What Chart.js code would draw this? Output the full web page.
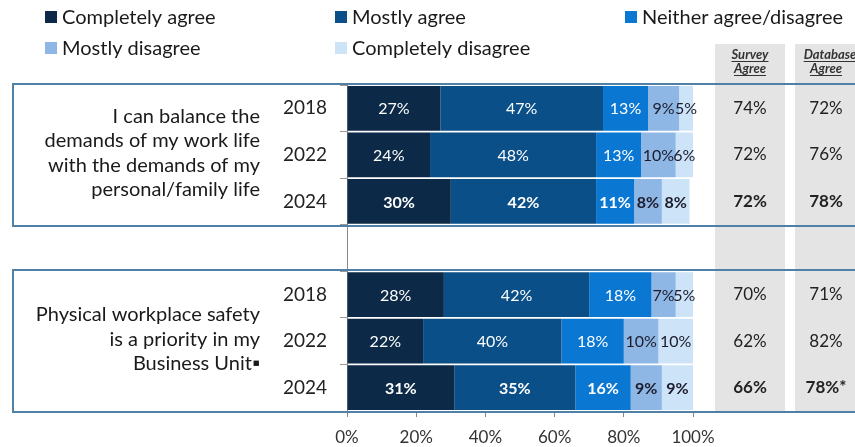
<!DOCTYPE html>
<html>
<head>
<meta charset="utf-8">
<script src="https://cdn.jsdelivr.net/npm/chart.js@4"></script>
<style>
  html, body { margin: 0; padding: 0; background: #fff; }
  #wrap { width: 855px; height: 447px; }
</style>
</head>
<body>
<div id="wrap"><canvas id="chart" width="855" height="447"></canvas></div>
<script>
// rows: 2018/2022/2024 for each question, with a blank spacer row between
const years = ['2018', '2022', '2024', '', '2018', '2022', '2024'];
const seriesNames = ['Completely agree', 'Mostly agree', 'Neither agree/disagree', 'Mostly disagree', 'Completely disagree'];
const completelyAgree = [27, 24, 30, null, 28, 22, 31];
const mostlyAgree = [47, 48, 42, null, 42, 40, 35];
const neither = [13, 13, 11, null, 18, 18, 16];
const mostlyDisagree = [9, 10, 8, null, 7, 10, 9];
const completelyDisagree = [5, 6, 8, null, 5, 10, 9];
const surveyAgree = ['74%', '72%', '72%', '', '70%', '62%', '66%'];
const databaseAgree = ['72%', '76%', '78%', '', '71%', '82%', '78%*'];
const questions = [
  ['I can balance the', 'demands of my work life', 'with the demands of my', 'personal/family life'],
  ['Physical workplace safety', 'is a priority in my', 'Business Unit\u25AA']
];
const xTicks = [0, 20, 40, 60, 80, 100];

const colors = ['#0c2a47', '#0b4f88', '#0a78d2', '#8fb7e6', '#cde3f7'];
const FONT = 'Lato, "Open Sans", sans-serif';
const boldRows = [2, 6];

const seriesData = [completelyAgree, mostlyAgree, neither, mostlyDisagree, completelyDisagree];

const decorPlugin = {
  id: 'decor',
  beforeDraw(chart){
    const ctx = chart.ctx;
    ctx.save();
    // grey columns behind the agree values
    ctx.fillStyle = '#e4e4e4';
    ctx.fillRect(715, 44, 70, 368);
    ctx.fillRect(795, 44, 60, 368);
    ctx.restore();
  },
  afterDatasetsDraw(chart){
    const ctx = chart.ctx;
    const y = chart.scales.y;
    const step = y.getPixelForValue(1) - y.getPixelForValue(0);
    ctx.save();
    // group boxes
    ctx.strokeStyle = '#4f81a6';
    ctx.lineWidth = 2;
    [[0, 2], [4, 6]].forEach(g => {
      const top = Math.round(y.getPixelForValue(g[0]) - step / 2) - 1;
      const bot = Math.round(y.getPixelForValue(g[1]) + step / 2) + 1;
      ctx.strokeRect(13, top, 900, bot - top);
    });

    // segment labels
    ctx.textAlign = 'center';
    ctx.textBaseline = 'middle';
    chart.data.datasets.forEach((ds, di) => {
      const meta = chart.getDatasetMeta(di);
      meta.data.forEach((bar, i) => {
        const v = ds.data[i];
        if (v == null) return;
        const right = Math.min(bar.x, chart.chartArea.right);
        const cx = (bar.base + right) / 2;
        ctx.fillStyle = di < 3 ? '#ffffff' : '#1b1b2b';
        ctx.font = (boldRows.includes(i) ? 'bold ' : '') + '16px ' + FONT;
        ctx.fillText(v + '%', cx, bar.y + 1);
      });
    });

    // agree columns
    ctx.fillStyle = '#222';
    years.forEach((yr, i) => {
      if (!yr) return;
      const py = y.getPixelForValue(i);
      ctx.font = (boldRows.includes(i) ? 'bold ' : '') + '17px ' + FONT;
      ctx.fillText(surveyAgree[i], 750, py);
      ctx.fillText(databaseAgree[i], 826, py);
    });

    // column headers
    ctx.fillStyle = '#333';
    ctx.font = 'italic bold 13px ' + FONT;
    const hdr = [['Survey', 750, 55], ['Agree', 750, 69], ['Database', 830, 55], ['Agree', 826, 69]];
    hdr.forEach(h => {
      ctx.fillText(h[0], h[1], h[2]);
      const w = ctx.measureText(h[0]).width;
      ctx.fillRect(h[1] - w / 2, h[2] + 6, w, 1);
    });

    // question text
    ctx.textAlign = 'right';
    ctx.fillStyle = '#1a1a1a';
    ctx.font = '20px ' + FONT;
    const lh = 24.5;
    questions.forEach((lines, qi) => {
      const center = y.getPixelForValue(qi === 0 ? 1 : 5) - 2;
      const start = center - (lines.length - 1) * lh / 2;
      lines.forEach((t, li) => ctx.fillText(t, 260, start + li * lh));
    });

    // legend
    ctx.textAlign = 'left';
    const pos = [[45, 17], [335, 17], [625, 17], [45, 48], [335, 48]];
    seriesNames.forEach((name, k) => {
      ctx.fillStyle = colors[k];
      ctx.fillRect(pos[k][0], pos[k][1] - 6, 12, 12);
      ctx.fillStyle = '#1a1a1a';
      ctx.font = '20px ' + FONT;
      ctx.fillText(name, pos[k][0] + 17, pos[k][1] + 1);
    });
    ctx.restore();
  }
};

new Chart(document.getElementById('chart'), {
  type: 'bar',
  data: {
    labels: years,
    datasets: seriesNames.map((name, k) => ({
      label: name,
      data: seriesData[k],
      backgroundColor: colors[k],
      borderWidth: 0,
      barPercentage: 0.96,
      categoryPercentage: 1
    }))
  },
  options: {
    indexAxis: 'y',
    responsive: false,
    animation: false,
    layout: { padding: { top: 85, right: 162, left: 0, bottom: 0 } },
    plugins: { legend: { display: false }, tooltip: { enabled: false } },
    scales: {
      x: {
        stacked: true,
        min: 0,
        max: 100,
        afterBuildTicks: s => { s.ticks = xTicks.map(v => ({ value: v })); },
        afterFit: s => { s.height = 36; },
        ticks: {
          callback: v => v + '%',
          color: '#333',
          font: { family: FONT, size: 17 },
          padding: 10
        },
        grid: { drawOnChartArea: false, tickLength: 6, color: '#888' },
        border: { color: '#4f81a6', width: 1 }
      },
      y: {
        stacked: true,
        afterFit: s => { s.width = 347; },
        ticks: {
          color: '#222',
          font: { family: FONT, size: 19 },
          padding: 13
        },
        grid: { drawOnChartArea: false, offset: true, tickLength: 7, color: '#999' },
        border: { color: '#888', width: 1 }
      }
    }
  },
  plugins: [decorPlugin]
});
</script>
</body>
</html>
